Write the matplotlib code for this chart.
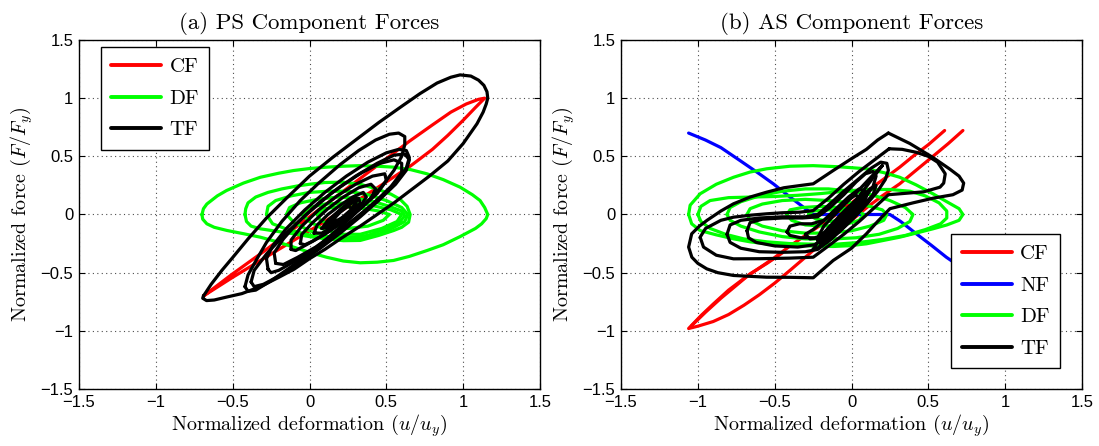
import matplotlib
matplotlib.use("Agg")
import matplotlib.pyplot as plt

plt.rcParams['mathtext.fontset'] = 'cm'
SERIF = 'cmr10'
SANS = 'Liberation Sans'

# ---------------- axis ticks ----------------
TICKS = [-1.5, -1.0, -0.5, 0.0, 0.5, 1.0, 1.5]
TICK_LABELS = ['\u22121.5', '\u22121', '\u22120.5', '0', '0.5', '1', '1.5']

# ---------------- (a) PS component forces ----------------
ps_cf = [(-0.69, -0.70), (-0.5, -0.51), (-0.3, -0.32), (-0.1, -0.12), (0.1, 0.08),
         (0.3, 0.28), (0.5, 0.48), (0.65, 0.63), (0.8, 0.77), (0.92, 0.88),
         (1.02, 0.95), (1.1, 0.99), (1.14, 1.0), (1.08, 0.92), (1.0, 0.81),
         (0.9, 0.68), (0.8, 0.56), (0.66, 0.42), (0.5, 0.28), (0.3, 0.11),
         (0.1, -0.06), (-0.1, -0.22), (-0.3, -0.38), (-0.5, -0.54), (-0.69, -0.70)]

ps_df_1 = [(-0.70, 0.0), (-0.69, 0.05), (-0.668, 0.09), (-0.6, 0.16), (-0.54, 0.206),
           (-0.43, 0.27), (-0.32, 0.32), (-0.2, 0.355), (-0.104, 0.378), (0.0, 0.395),
           (0.113, 0.407), (0.22, 0.415), (0.33, 0.42), (0.44, 0.415), (0.547, 0.407),
           (0.66, 0.385), (0.764, 0.35), (0.87, 0.30), (0.98, 0.235), (1.06, 0.17),
           (1.11, 0.12), (1.14, 0.06), (1.16, 0.0), (1.15, -0.035), (1.12, -0.08),
           (1.08, -0.12), (0.98, -0.19), (0.87, -0.26), (0.764, -0.31), (0.65, -0.36),
           (0.547, -0.395), (0.44, -0.41), (0.33, -0.415), (0.22, -0.40), (0.11, -0.367),
           (0.0, -0.325), (-0.104, -0.28), (-0.21, -0.235), (-0.32, -0.195),
           (-0.43, -0.165), (-0.538, -0.137), (-0.62, -0.11), (-0.668, -0.08),
           (-0.695, -0.04), (-0.70, 0.0)]
ps_df_2 = [(-0.42, 0.0), (-0.415, 0.05), (-0.40, 0.10), (-0.35, 0.15), (-0.27, 0.19),
           (-0.18, 0.22), (-0.08, 0.245), (0.0, 0.26), (0.1, 0.275), (0.22, 0.278),
           (0.33, 0.26), (0.438, 0.22), (0.53, 0.175), (0.59, 0.13), (0.635, 0.07),
           (0.655, 0.0), (0.645, -0.066), (0.6, -0.11), (0.547, -0.138), (0.45, -0.18),
           (0.33, -0.223), (0.22, -0.225), (0.113, -0.21), (0.0, -0.19), (-0.104, -0.166),
           (-0.21, -0.145), (-0.32, -0.123), (-0.38, -0.10), (-0.41, -0.06), (-0.42, 0.0)]
ps_df_3 = [(-0.28, 0.0), (-0.27, 0.07), (-0.22, 0.12), (-0.12, 0.16), (0.0, 0.19),
           (0.12, 0.20), (0.25, 0.20), (0.38, 0.17), (0.5, 0.12), (0.6, 0.06), (0.64, 0.0),
           (0.62, -0.06), (0.55, -0.11), (0.45, -0.17), (0.33, -0.21), (0.2, -0.22),
           (0.08, -0.20), (-0.05, -0.16), (-0.16, -0.12), (-0.24, -0.08), (-0.28, 0.0)]
ps_df_4 = [(-0.15, 0.0), (-0.13, 0.06), (-0.06, 0.10), (0.05, 0.13), (0.18, 0.15),
           (0.3, 0.14), (0.42, 0.11), (0.52, 0.07), (0.6, 0.03), (0.62, -0.01),
           (0.59, -0.06), (0.5, -0.12), (0.38, -0.18), (0.25, -0.20), (0.12, -0.19),
           (0.0, -0.14), (-0.1, -0.07), (-0.15, 0.0)]
ps_df_5 = [(-0.05, 0.0), (0.0, 0.06), (0.1, 0.09), (0.25, 0.10), (0.4, 0.08), (0.53, 0.04),
           (0.6, 0.0), (0.57, -0.06), (0.47, -0.12), (0.33, -0.17), (0.2, -0.17),
           (0.08, -0.12), (0.0, -0.06), (-0.05, 0.0)]
ps_df_6 = [(0.05, 0.0), (0.1, 0.05), (0.2, 0.07), (0.32, 0.06), (0.45, 0.03), (0.52, 0.0),
           (0.48, -0.05), (0.38, -0.1), (0.25, -0.12), (0.14, -0.09), (0.07, -0.05),
           (0.05, 0.0)]

ps_tf_1 = [(-0.69, -0.70), (-0.64, -0.60), (-0.57, -0.48), (-0.5, -0.37), (-0.4, -0.21),
           (-0.28, -0.03), (-0.15, 0.14), (0.0, 0.33), (0.15, 0.49), (0.3, 0.64),
           (0.45, 0.79), (0.6, 0.93), (0.72, 1.04), (0.83, 1.13), (0.92, 1.18),
           (0.98, 1.20), (1.05, 1.19), (1.1, 1.155), (1.135, 1.11), (1.155, 1.055),
           (1.16, 1.0), (1.15, 0.95), (1.13, 0.88), (1.09, 0.78), (1.0, 0.61), (0.9, 0.46),
           (0.78, 0.33), (0.65, 0.20), (0.55, 0.10), (0.44, 0.0), (0.33, -0.10),
           (0.2, -0.21), (0.1, -0.30), (0.0, -0.38), (-0.1, -0.47), (-0.2, -0.54),
           (-0.32, -0.62), (-0.44, -0.68), (-0.54, -0.71), (-0.62, -0.735), (-0.67, -0.74),
           (-0.695, -0.72), (-0.69, -0.70)]
ps_tf_2 = [(-0.42, -0.62), (-0.40, -0.52), (-0.35, -0.40), (-0.28, -0.24), (-0.18, -0.06),
           (-0.06, 0.12), (0.06, 0.27), (0.2, 0.43), (0.32, 0.55), (0.43, 0.64),
           (0.52, 0.69), (0.58, 0.70), (0.62, 0.67), (0.62, 0.60), (0.6, 0.50),
           (0.55, 0.38), (0.47, 0.24), (0.37, 0.10), (0.25, -0.05), (0.12, -0.20),
           (0.0, -0.33), (-0.12, -0.45), (-0.25, -0.57), (-0.35, -0.65), (-0.40, -0.66),
           (-0.42, -0.62)]
ps_tf_3 = [(-0.27, -0.47), (-0.28, -0.38), (-0.24, -0.27), (-0.15, -0.12), (-0.03, 0.04),
           (0.1, 0.19), (0.24, 0.33), (0.38, 0.45), (0.5, 0.53), (0.58, 0.56), (0.63, 0.55),
           (0.65, 0.49), (0.63, 0.40), (0.57, 0.29), (0.48, 0.17), (0.37, 0.04),
           (0.25, -0.09), (0.12, -0.22), (0.0, -0.33), (-0.12, -0.42), (-0.2, -0.48),
           (-0.25, -0.50), (-0.27, -0.47)]
ps_tf_4 = [(-0.38, -0.58), (-0.36, -0.48), (-0.28, -0.34), (-0.16, -0.17), (-0.02, 0.0),
           (0.14, 0.18), (0.3, 0.33), (0.44, 0.44), (0.55, 0.51), (0.62, 0.52),
           (0.65, 0.47), (0.63, 0.38), (0.56, 0.26), (0.45, 0.12), (0.33, -0.02),
           (0.2, -0.16), (0.06, -0.30), (-0.08, -0.43), (-0.2, -0.53), (-0.3, -0.60),
           (-0.36, -0.62), (-0.38, -0.58)]
ps_tf_5 = [(-0.22, -0.42), (-0.23, -0.33), (-0.17, -0.21), (-0.07, -0.06), (0.06, 0.10),
           (0.2, 0.24), (0.34, 0.36), (0.46, 0.44), (0.55, 0.47), (0.6, 0.44), (0.6, 0.36),
           (0.53, 0.24), (0.42, 0.10), (0.3, -0.03), (0.17, -0.16), (0.04, -0.28),
           (-0.08, -0.37), (-0.17, -0.43), (-0.22, -0.42)]
ps_tf_6 = [(-0.12, -0.30), (-0.12, -0.22), (-0.05, -0.10), (0.06, 0.04), (0.18, 0.16),
           (0.3, 0.26), (0.41, 0.33), (0.49, 0.35), (0.5, 0.29), (0.44, 0.18), (0.34, 0.06),
           (0.22, -0.06), (0.1, -0.17), (-0.02, -0.26), (-0.09, -0.31), (-0.12, -0.30)]
ps_tf_7 = [(-0.06, -0.25), (-0.05, -0.17), (0.02, -0.07), (0.12, 0.05), (0.22, 0.15),
           (0.32, 0.23), (0.4, 0.26), (0.43, 0.22), (0.4, 0.14), (0.32, 0.04), (0.22, -0.06),
           (0.12, -0.15), (0.02, -0.23), (-0.03, -0.26), (-0.06, -0.25)]
ps_tf_8 = [(0.03, -0.16), (0.05, -0.09), (0.12, 0.0), (0.2, 0.08), (0.28, 0.15),
           (0.35, 0.19), (0.37, 0.15), (0.33, 0.07), (0.25, -0.02), (0.16, -0.10),
           (0.08, -0.16), (0.03, -0.16)]
ps_tf_9 = [(0.08, -0.12), (0.12, -0.05), (0.19, 0.03), (0.26, 0.10), (0.32, 0.14),
           (0.33, 0.10), (0.28, 0.02), (0.2, -0.06), (0.12, -0.11), (0.08, -0.12)]
ps_tf_10 = [(0.1, -0.10), (0.15, -0.03), (0.2, 0.04), (0.27, 0.12), (0.3, 0.16),
            (0.31, 0.12), (0.27, 0.04), (0.2, -0.04), (0.14, -0.10), (0.1, -0.10)]
ps_tf_11 = [(0.12, -0.08), (0.16, -0.02), (0.22, 0.05), (0.29, 0.11), (0.31, 0.08),
            (0.26, 0.0), (0.19, -0.06), (0.12, -0.08)]
ps_tf_12 = [(0.15, -0.05), (0.2, 0.02), (0.25, 0.07), (0.28, 0.05), (0.24, -0.01),
            (0.18, -0.05), (0.15, -0.05)]

# ---------------- (b) AS component forces ----------------
as_cf = [(0.606, 0.722), (0.5, 0.60), (0.4, 0.50), (0.314, 0.407), (0.2, 0.295),
         (0.1, 0.20), (0.0, 0.10), (-0.1, 0.0), (-0.2, -0.09), (-0.3, -0.18),
         (-0.4, -0.27), (-0.5, -0.37), (-0.6, -0.46), (-0.7, -0.55), (-0.8, -0.65),
         (-0.9, -0.77), (-0.98, -0.87), (-1.06, -0.98), (-1.0, -0.96), (-0.9, -0.92),
         (-0.8, -0.86), (-0.7, -0.78), (-0.6, -0.69), (-0.5, -0.59), (-0.4, -0.48),
         (-0.25, -0.31), (-0.1, -0.15), (0.0, -0.05), (0.1, 0.06), (0.2, 0.16),
         (0.314, 0.264), (0.42, 0.38), (0.53, 0.50), (0.63, 0.61), (0.725, 0.722)]
as_cf_b = [(-1.04, -0.955), (-0.95, -0.84), (-0.85, -0.72), (-0.75, -0.61),
           (-0.66, -0.51), (-0.55, -0.42), (-0.45, -0.33)]

as_nf = [(-1.06, 0.70), (-0.95, 0.64), (-0.85, 0.575), (-0.726, 0.464), (-0.6, 0.35),
         (-0.509, 0.264), (-0.4, 0.15), (-0.3, 0.05), (-0.25, 0.0), (0.0, 0.0),
         (0.25, 0.0), (0.32, -0.06), (0.422, -0.166), (0.52, -0.265), (0.617, -0.367),
         (0.73, -0.47)]

as_df_1 = [(-1.06, 0.0), (-1.05, 0.08), (-0.985, 0.178), (-0.88, 0.26), (-0.768, 0.32),
           (-0.66, 0.365), (-0.552, 0.393), (-0.4, 0.415), (-0.25, 0.42), (-0.08, 0.41),
           (0.097, 0.393), (0.21, 0.36), (0.314, 0.32), (0.42, 0.255), (0.53, 0.178),
           (0.62, 0.11), (0.70, 0.05), (0.725, 0.0), (0.70, -0.05), (0.62, -0.09),
           (0.53, -0.123), (0.42, -0.16), (0.314, -0.195), (0.2, -0.225), (0.097, -0.252),
           (-0.01, -0.268), (-0.119, -0.275), (-0.23, -0.272), (-0.335, -0.266),
           (-0.45, -0.26), (-0.552, -0.252), (-0.66, -0.235), (-0.768, -0.209),
           (-0.88, -0.175), (-0.985, -0.138), (-1.04, -0.08), (-1.06, 0.0)]
as_df_2 = [(-1.0, 0.0), (-0.98, 0.07), (-0.92, 0.12), (-0.8, 0.145), (-0.65, 0.15),
           (-0.5, 0.155), (-0.35, 0.165), (-0.2, 0.18), (-0.05, 0.20), (0.1, 0.215),
           (0.25, 0.215), (0.38, 0.20), (0.48, 0.16), (0.57, 0.10), (0.62, 0.03),
           (0.62, -0.03), (0.58, -0.08), (0.48, -0.13), (0.35, -0.18), (0.2, -0.215),
           (0.05, -0.24), (-0.1, -0.255), (-0.25, -0.255), (-0.4, -0.25), (-0.55, -0.235),
           (-0.7, -0.21), (-0.82, -0.17), (-0.92, -0.12), (-0.98, -0.06), (-1.0, 0.0)]
as_df_3 = [(-0.81, 0.0), (-0.79, 0.06), (-0.72, 0.11), (-0.6, 0.16), (-0.45, 0.20),
           (-0.3, 0.22), (-0.15, 0.22), (0.0, 0.20), (0.13, 0.17), (0.25, 0.12),
           (0.35, 0.06), (0.40, 0.0), (0.38, -0.06), (0.3, -0.12), (0.18, -0.17),
           (0.03, -0.20), (-0.12, -0.21), (-0.3, -0.21), (-0.45, -0.19), (-0.6, -0.15),
           (-0.72, -0.10), (-0.79, -0.05), (-0.81, 0.0)]
as_df_4 = [(-0.68, 0.0), (-0.66, 0.05), (-0.58, 0.09), (-0.45, 0.12), (-0.3, 0.13),
           (-0.15, 0.12), (0.0, 0.10), (0.12, 0.07), (0.2, 0.04), (0.23, 0.0),
           (0.21, -0.05), (0.12, -0.10), (0.0, -0.14), (-0.15, -0.16), (-0.3, -0.16),
           (-0.45, -0.14), (-0.58, -0.10), (-0.66, -0.05), (-0.68, 0.0)]
as_df_5 = [(-0.42, 0.0), (-0.4, 0.04), (-0.32, 0.06), (-0.2, 0.07), (-0.08, 0.06),
           (0.03, 0.04), (0.08, 0.0), (0.05, -0.05), (-0.05, -0.09), (-0.18, -0.10),
           (-0.3, -0.09), (-0.39, -0.05), (-0.42, 0.0)]
as_df_6 = [(-0.28, 0.0), (-0.25, 0.03), (-0.15, 0.04), (-0.05, 0.03), (0.02, 0.0),
           (-0.03, -0.04), (-0.13, -0.06), (-0.23, -0.04), (-0.28, 0.0)]

as_tf_1 = [(0.24, 0.70), (0.38, 0.61), (0.53, 0.49), (0.64, 0.39), (0.70, 0.33),
           (0.73, 0.27), (0.72, 0.21), (0.66, 0.17), (0.53, 0.14), (0.4, 0.10),
           (0.25, 0.05), (0.17, -0.06), (0.097, -0.166), (0.0, -0.29), (-0.119, -0.395),
           (-0.249, -0.544), (-0.4, -0.54), (-0.552, -0.539), (-0.768, -0.524),
           (-0.87, -0.50), (-0.942, -0.467), (-1.0, -0.42), (-1.039, -0.367),
           (-1.06, -0.28), (-1.04, -0.166), (-0.99, -0.10), (-0.94, -0.05), (-0.85, 0.03),
           (-0.768, 0.092), (-0.66, 0.15), (-0.552, 0.192), (-0.44, 0.23),
           (-0.335, 0.249), (-0.249, 0.264), (-0.119, 0.378), (0.0, 0.48), (0.097, 0.56),
           (0.17, 0.64), (0.24, 0.70)]
as_tf_2 = [(0.245, 0.565), (0.33, 0.56), (0.42, 0.535), (0.5, 0.50), (0.56, 0.45),
           (0.61, 0.35), (0.6, 0.27), (0.576, 0.235), (0.47, 0.195), (0.314, 0.178),
           (0.24, 0.17), (0.15, 0.06), (0.05, -0.06), (-0.05, -0.17), (-0.15, -0.27),
           (-0.249, -0.367), (-0.4, -0.375), (-0.6, -0.38), (-0.768, -0.381),
           (-0.88, -0.35), (-0.963, -0.28), (-0.985, -0.195), (-0.95, -0.12),
           (-0.85, -0.05), (-0.768, -0.023), (-0.65, -0.005), (-0.552, 0.006),
           (-0.45, 0.015), (-0.335, 0.02), (-0.249, 0.034), (-0.15, 0.14), (-0.05, 0.26),
           (0.05, 0.37), (0.15, 0.47), (0.245, 0.565)]
as_tf_3 = [(-0.81, -0.17), (-0.79, -0.09), (-0.72, -0.05), (-0.6, -0.03), (-0.45, -0.02),
           (-0.3, -0.02), (-0.22, 0.0), (-0.15, 0.08), (-0.05, 0.20), (0.05, 0.31),
           (0.13, 0.40), (0.19, 0.45), (0.23, 0.44), (0.24, 0.38), (0.22, 0.30),
           (0.17, 0.20), (0.1, 0.09), (0.02, -0.02), (-0.06, -0.12), (-0.14, -0.22),
           (-0.22, -0.30), (-0.3, -0.32), (-0.45, -0.325), (-0.6, -0.32), (-0.72, -0.29),
           (-0.79, -0.24), (-0.81, -0.17)]
as_tf_4 = [(-0.68, -0.14), (-0.66, -0.07), (-0.58, -0.04), (-0.45, -0.03), (-0.32, -0.03),
           (-0.22, -0.02), (-0.14, 0.06), (-0.05, 0.17), (0.03, 0.28), (0.09, 0.35),
           (0.14, 0.37), (0.16, 0.33), (0.14, 0.24), (0.08, 0.13), (0.0, 0.02),
           (-0.08, -0.09), (-0.16, -0.19), (-0.24, -0.26), (-0.35, -0.28), (-0.5, -0.27),
           (-0.62, -0.24), (-0.67, -0.20), (-0.68, -0.14)]
as_tf_5 = [(-0.42, -0.15), (-0.4, -0.10), (-0.34, -0.08), (-0.26, -0.08), (-0.18, -0.05),
           (-0.1, 0.05), (-0.02, 0.15), (0.05, 0.22), (0.09, 0.20), (0.07, 0.12),
           (0.0, 0.02), (-0.08, -0.08), (-0.16, -0.17), (-0.24, -0.20), (-0.33, -0.20),
           (-0.4, -0.18), (-0.42, -0.15)]
as_tf_6 = [(-0.3, -0.17), (-0.25, -0.13), (-0.15, -0.02), (-0.05, 0.10), (0.03, 0.17),
           (0.05, 0.12), (0.0, 0.03), (-0.1, -0.09), (-0.2, -0.20), (-0.27, -0.21),
           (-0.3, -0.17)]
as_tf_7 = [(-0.2, -0.25), (-0.15, -0.16), (-0.07, -0.05), (0.02, 0.07), (0.08, 0.12),
           (0.07, 0.05), (0.0, -0.05), (-0.08, -0.15), (-0.16, -0.24), (-0.2, -0.25)]
as_tf_8 = [(-0.12, -0.12), (-0.05, -0.02), (0.02, 0.08), (0.06, 0.10), (0.03, 0.0),
           (-0.05, -0.10), (-0.12, -0.12)]
as_tf_9 = [(-0.25, -0.30), (-0.2, -0.20), (-0.1, -0.07), (0.0, 0.06), (0.12, 0.22),
           (0.16, 0.25), (0.14, 0.17), (0.05, 0.04), (-0.05, -0.08), (-0.15, -0.20),
           (-0.22, -0.29), (-0.25, -0.30)]
as_tf_10 = [(-0.22, -0.22), (-0.14, -0.1), (-0.04, 0.04), (0.06, 0.16), (0.1, 0.17),
            (0.08, 0.09), (-0.02, -0.03), (-0.12, -0.16), (-0.19, -0.23), (-0.22, -0.22)]
as_tf_11 = [(0.2, 0.42), (0.12, 0.28), (0.04, 0.14), (-0.06, 0.0), (-0.16, -0.14),
            (-0.22, -0.2), (-0.18, -0.1), (-0.08, 0.04), (0.04, 0.2), (0.14, 0.34),
            (0.2, 0.42)]

RED, GREEN, BLUE, BLACK = '#ff0000', '#00ff00', '#0000ff', '#000000'
LW = 2.3


def trace(ax, pts, color, label=None):
    xs = [p[0] for p in pts]
    ys = [p[1] for p in pts]
    return ax.plot(xs, ys, color=color, lw=LW, label=label,
                   solid_joinstyle='round', solid_capstyle='round')[0]


def style_axes(ax, title):
    ax.set_xlim(-1.5, 1.5)
    ax.set_ylim(-1.5, 1.5)
    ax.set_xticks(TICKS)
    ax.set_yticks(TICKS)
    ax.set_xticklabels(TICK_LABELS, fontfamily=SANS, fontsize=12)
    ax.set_yticklabels(TICK_LABELS, fontfamily=SANS, fontsize=12)
    ax.tick_params(direction='in', top=True, right=True, length=4, width=0.8, pad=4)
    ax.grid(True, linestyle=(0, (1, 3)), color='0.3', linewidth=0.8)
    ax.set_axisbelow(True)
    for s in ax.spines.values():
        s.set_linewidth(1.0)
    ax.set_title(title, fontfamily=SERIF, fontsize=16.5, pad=8)
    ax.set_xlabel(r'Normalized deformation $(u/u_y)$', fontfamily=SERIF, fontsize=14.5,
                  labelpad=2)
    ax.set_ylabel(r'Normalized force $(F/F_y)$', fontfamily=SERIF, fontsize=14.5,
                  labelpad=4)


def add_legend(ax, loc, anchor):
    leg = ax.legend(loc=loc, bbox_to_anchor=anchor, borderaxespad=0,
                    prop={'family': SERIF, 'size': 15}, handlelength=2.4,
                    labelspacing=0.62, handletextpad=0.4, borderpad=0.5,
                    fancybox=False, framealpha=1, edgecolor='black')
    leg.get_frame().set_linewidth(1.0)
    for line in leg.get_lines():
        line.set_linewidth(2.8)
    return leg


fig = plt.figure(figsize=(10.99, 4.46), dpi=100)
ax1 = fig.add_axes([79 / 1099, 57 / 446, 461 / 1099, 349 / 446])
ax2 = fig.add_axes([621 / 1099, 57 / 446, 461 / 1099, 349 / 446])

# (a) PS
trace(ax1, ps_cf, RED, 'CF')
for i, loop in enumerate([ps_df_1, ps_df_2, ps_df_3, ps_df_4, ps_df_5, ps_df_6]):
    trace(ax1, loop, GREEN, 'DF' if i == 0 else None)
for i, loop in enumerate([ps_tf_1, ps_tf_2, ps_tf_3, ps_tf_4, ps_tf_5, ps_tf_6,
                          ps_tf_7, ps_tf_8, ps_tf_9, ps_tf_10, ps_tf_11, ps_tf_12]):
    trace(ax1, loop, BLACK, 'TF' if i == 0 else None)
style_axes(ax1, '(a) PS Component Forces')
add_legend(ax1, 'upper left', (0.047, 0.979))

# (b) AS
trace(ax2, as_cf, RED, 'CF')
trace(ax2, as_cf_b, RED)
trace(ax2, as_nf, BLUE, 'NF')
for i, loop in enumerate([as_df_1, as_df_2, as_df_3, as_df_4, as_df_5, as_df_6]):
    trace(ax2, loop, GREEN, 'DF' if i == 0 else None)
for i, loop in enumerate([as_tf_1, as_tf_2, as_tf_3, as_tf_4, as_tf_5, as_tf_6,
                          as_tf_7, as_tf_8, as_tf_9, as_tf_10, as_tf_11]):
    trace(ax2, loop, BLACK, 'TF' if i == 0 else None)
style_axes(ax2, '(b) AS Component Forces')
add_legend(ax2, 'lower right', (0.952, 0.059))

fig.savefig('out.png', dpi=100)
